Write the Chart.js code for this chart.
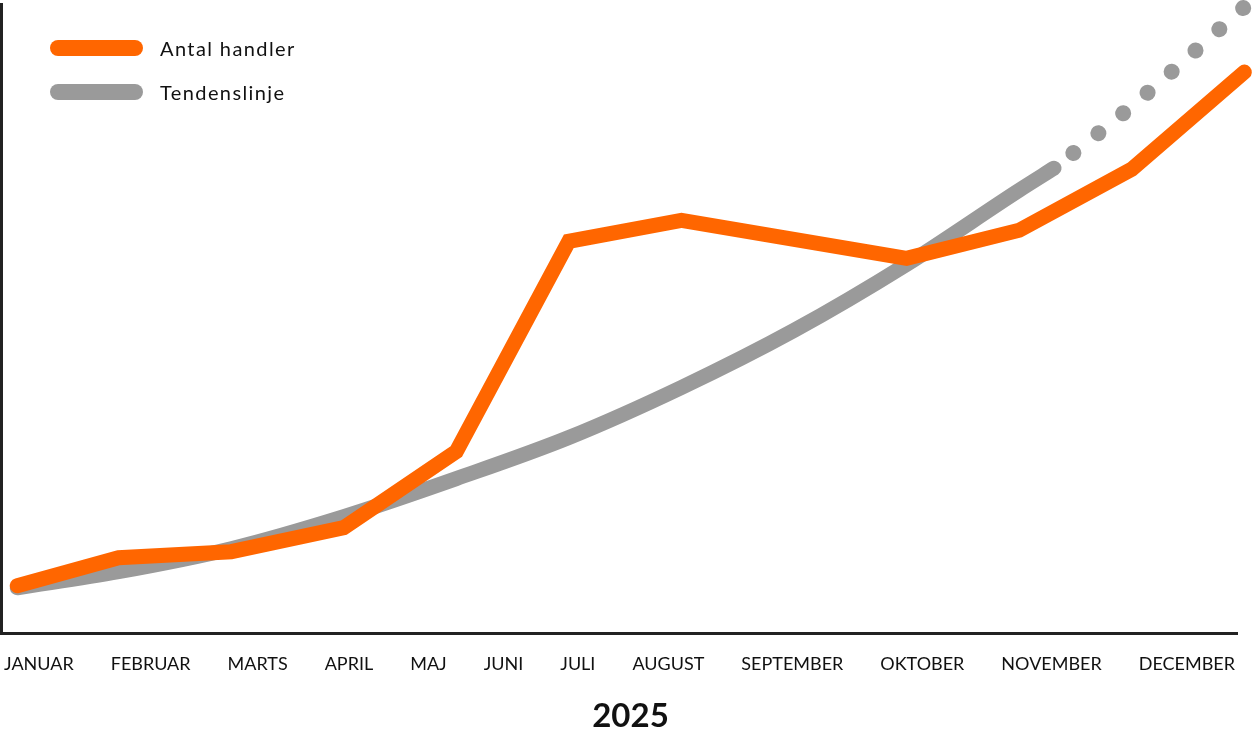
<!DOCTYPE html>
<html>
<head>
<meta charset="utf-8">
<script src="https://cdn.jsdelivr.net/npm/chart.js@4/dist/chart.umd.min.js"></script>
<style>
  html, body { margin: 0; padding: 0; background: #ffffff; }
  #wrap { position: relative; width: 1260px; height: 747px; }
  #legend { position: absolute; left: 50px; top: 39px; font-family: Lato, sans-serif; font-size: 20px; letter-spacing: 1.4px; color: #111; }
  .item { display: flex; align-items: center; height: 18px; margin-bottom: 26px; }
  .swatch { width: 93px; height: 16px; border-radius: 8px; margin-right: 17px; }
</style>
</head>
<body>
<div id="wrap">
  <canvas id="c" width="1260" height="747"></canvas>
  <div id="legend"></div>
</div>
<script>
// ---- data ----
const months = ["JANUAR","FEBRUAR","MARTS","APRIL","MAJ","JUNI","JULI","AUGUST","SEPTEMBER","OKTOBER","NOVEMBER","DECEMBER"];
const handlerX = [0.1, 1, 2, 3, 4, 5, 6, 7, 8, 9, 10, 11];
const handler = [48, 76, 82, 106, 182, 392, 413, 394, 375, 403, 464, 561];
const trendSolidX = [0.1, 1, 2, 3, 4, 5, 6, 7, 8, 9, 9.31];
const trendSolidY = [46, 62, 85, 117, 155, 196, 246, 303, 369, 443, 465];
const trendDotX = [9.31, 10, 11];
const trendDotY = [465, 527, 626];
const yearLabel = "2025";
const seriesNames = ["Antal handler", "Tendenslinje"];

const ORANGE = "#ff6600";
const GRAY = "#9a9a9a";
const tickFont = { family: "Lato", size: 18 };

const chart = new Chart(document.getElementById("c"), {
  type: "line",
  data: {
    datasets: [
      {
        label: seriesNames[1],
        data: trendSolidX.map((x, i) => ({ x, y: trendSolidY[i] })),
        borderColor: GRAY, borderWidth: 15, borderCapStyle: "round",
        pointRadius: 0, cubicInterpolationMode: "monotone", clip: false, order: 2
      },
      {
        label: "_dots",
        data: trendDotX.map((x, i) => ({ x, y: trendDotY[i] })),
        borderColor: GRAY, borderWidth: 16, borderCapStyle: "round",
        borderDash: [0.001, 31.9], borderDashOffset: 7.3,
        pointRadius: 0, cubicInterpolationMode: "monotone", clip: false, order: 2
      },
      {
        label: seriesNames[0],
        data: handlerX.map((x, i) => ({ x, y: handler[i] })),
        borderColor: ORANGE, borderWidth: 15, borderCapStyle: "round", borderJoinStyle: "miter",
        pointRadius: 0, tension: 0, clip: false, order: 1
      }
    ]
  },
  options: {
    responsive: false,
    animation: false,
    events: [],
    layout: { padding: { left: 1, right: 0, top: 4, bottom: 4 } },
    plugins: {
      legend: { display: false },
      tooltip: { enabled: false },
      title: {
        display: true, position: "bottom", text: yearLabel, color: "#111",
        font: { family: "Lato", size: 33, weight: "bold" },
        padding: { top: 21, bottom: 7 }
      }
    },
    scales: {
      x: {
        type: "linear", min: -0.0444, max: 10.935, position: "bottom",
        grid: { display: false, drawTicks: false },
        border: { display: true, color: "#222", width: 3 },
        ticks: { display: false }
      },
      xl: {
        type: "linear", min: 0, max: 1, position: "bottom",
        grid: { display: false, drawTicks: true, tickLength: 20 },
        border: { display: false },
        ticks: {
          autoSkip: false, maxRotation: 0, minRotation: 0, padding: 0,
          color: "#111", font: tickFont,
          callback: (v, i) => months[i]
        },
        afterBuildTicks: (scale) => {
          const ctx = scale.ctx;
          ctx.save();
          ctx.font = tickFont.size + "px " + tickFont.family;
          const widths = months.map(m => ctx.measureText(m).width);
          ctx.restore();
          const w = scale.width || 1235;
          const start = 3, end = w - 2;
          const total = widths.reduce((a, b) => a + b, 0);
          const gap = (end - start - total) / (months.length - 1);
          let pos = start;
          scale.ticks = widths.map(tw => {
            const c = pos + tw / 2;
            pos += tw + gap;
            return { value: c / w };
          });
        }
      },
      y: {
        type: "linear", min: 0, max: 629,
        grid: { display: false, drawTicks: false },
        border: { display: true, color: "#222", width: 3 },
        ticks: { display: false }
      },
      yr: {
        type: "linear", position: "right", min: 0, max: 1,
        grid: { display: false, drawTicks: true, tickLength: 23 },
        border: { display: false },
        ticks: { display: false }
      }
    }
  }
});

// HTML legend built from the chart's own datasets
const legendEl = document.getElementById("legend");
[2, 0].forEach(di => {
  const ds = chart.data.datasets[di];
  const item = document.createElement("div");
  item.className = "item";
  const sw = document.createElement("span");
  sw.className = "swatch";
  sw.style.background = ds.borderColor;
  const tx = document.createElement("span");
  tx.textContent = ds.label;
  item.appendChild(sw); item.appendChild(tx);
  legendEl.appendChild(item);
});
</script>
</body>
</html>
